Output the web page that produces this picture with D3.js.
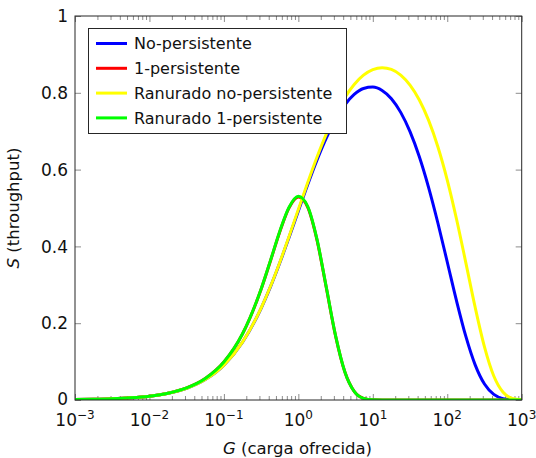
<!DOCTYPE html>
<html><head><meta charset="utf-8">
<script src="https://cdn.jsdelivr.net/npm/d3@7"></script>
<style>body{margin:0;background:#fff} svg{display:block}</style>
</head><body><svg id="c" width="536" height="458"></svg>
<script>
// Offered load G (log-spaced samples)
const G = [0.001, 0.001778, 0.003162, 0.005623, 0.01, 0.01778, 0.03162, 0.05623, 0.1, 0.1778,
  0.3162, 0.4217, 0.5623, 0.7499, 1, 1.3335, 1.778, 2.371, 3.162, 4.217,
  5.623, 7.499, 10, 13.335, 17.78, 23.71, 31.62, 42.17, 56.23, 74.99,
  100, 133.35, 177.8, 237.1, 316.2, 421.7, 562.3, 749.9, 1000];
// Throughput S
const noPersistente = [0.0010, 0.00178, 0.00315, 0.00559, 0.0099, 0.0175, 0.0306, 0.0532, 0.0907, 0.1505,
  0.2389, 0.2945, 0.3566, 0.4235, 0.4925, 0.5607, 0.6247, 0.6821, 0.7305, 0.7686,
  0.7957, 0.8112, 0.8148, 0.8061, 0.7845, 0.7490, 0.6988, 0.6334, 0.5532, 0.4603,
  0.3594, 0.2579, 0.1655, 0.0915, 0.0415, 0.0145, 0.0035, 0.0005, 0.0000];
const unoPersistente = [0.0010, 0.00178, 0.00316, 0.00562, 0.0100, 0.0178, 0.0316, 0.0560, 0.0989, 0.1721,
  0.2885, 0.3620, 0.4375, 0.5003, 0.5286, 0.5025, 0.4172, 0.2928, 0.1667, 0.0727,
  0.0223, 0.0043, 0.0004, 0, 0, 0, 0, 0, 0, 0,
  0, 0, 0, 0, 0, 0, 0, 0, 0];
const ranuradoNoPersistente = [0.0010, 0.00178, 0.00315, 0.00559, 0.0099, 0.0175, 0.0306, 0.0532, 0.0908, 0.1507,
  0.2396, 0.2956, 0.3583, 0.4260, 0.4963, 0.5660, 0.6323, 0.6926, 0.7449, 0.7882,
  0.8218, 0.8459, 0.8604, 0.8655, 0.8609, 0.8460, 0.8199, 0.7812, 0.7281, 0.6590,
  0.5729, 0.4708, 0.3572, 0.2415, 0.1384, 0.0625, 0.0202, 0.0041, 0.0005];
const ranuradoUnoPersistente = [0.0010, 0.00178, 0.00316, 0.00562, 0.0100, 0.0178, 0.0316, 0.0560, 0.0989, 0.1724,
  0.2891, 0.3630, 0.4390, 0.5021, 0.5307, 0.5045, 0.4189, 0.2941, 0.1675, 0.0731,
  0.0225, 0.0043, 0.0004, 0, 0, 0, 0, 0, 0, 0,
  0, 0, 0, 0, 0, 0, 0, 0, 0];

const seriesNames = ["No-persistente", "1-persistente", "Ranurado no-persistente", "Ranurado 1-persistente"];
const seriesColors = ["#0000ff", "#ff0000", "#ffff00", "#00ff00"];
const xTickExps = [-3, -2, -1, 0, 1, 2, 3];
const yTicks = [0, 0.2, 0.4, 0.6, 0.8, 1];
const yTickLabels = ["0", "0.2", "0.4", "0.6", "0.8", "1"];

const seriesValues = [noPersistente, unoPersistente, ranuradoNoPersistente, ranuradoUnoPersistente];

const svg = d3.select("#c");
const L = 75, R = 521.7, T = 16, B = 400;
const x = d3.scaleLog().domain([1e-3, 1e3]).range([L, R]);
const y = d3.scaleLinear().domain([0, 1]).range([B, T]);

const majors = xTickExps.map(e => Math.pow(10, e));
const minors = [];
for (let e = -3; e < 3; e++) for (let k = 2; k <= 9; k++) minors.push(k * Math.pow(10, e));

function styleAxis(g) {
  g.select(".domain").remove();
  g.selectAll("line").attr("stroke", "#8c8c8c").attr("stroke-width", 1);
  g.selectAll("text").remove();
}
// bottom / top ticks (inside)
svg.append("g").attr("transform", `translate(0,${B})`).call(d3.axisBottom(x).tickValues(minors).tickSize(-4).tickFormat("")).call(styleAxis);
svg.append("g").attr("transform", `translate(0,${B})`).call(d3.axisBottom(x).tickValues(majors).tickSize(-6).tickFormat("")).call(styleAxis);
svg.append("g").attr("transform", `translate(0,${T})`).call(d3.axisTop(x).tickValues(minors).tickSize(-4).tickFormat("")).call(styleAxis);
svg.append("g").attr("transform", `translate(0,${T})`).call(d3.axisTop(x).tickValues(majors).tickSize(-6).tickFormat("")).call(styleAxis);
// left / right ticks
svg.append("g").attr("transform", `translate(${L},0)`).call(d3.axisLeft(y).tickValues(yTicks).tickSize(-6).tickFormat("")).call(styleAxis);
svg.append("g").attr("transform", `translate(${R},0)`).call(d3.axisRight(y).tickValues(yTicks).tickSize(-6).tickFormat("")).call(styleAxis);

// curves
svg.append("clipPath").attr("id", "clip").append("rect").attr("x", L).attr("y", T - 2).attr("width", R - L).attr("height", B - T + 2);
const line = d3.line().x(d => x(d[0])).y(d => y(d[1])).curve(d3.curveMonotoneX);
const plot = svg.append("g").attr("clip-path", "url(#clip)");
seriesValues.forEach((vals, i) => {
  plot.append("path")
    .datum(G.map((g, j) => [g, vals[j]]))
    .attr("fill", "none")
    .attr("stroke", seriesColors[i])
    .attr("stroke-width", 3)
    .attr("stroke-linejoin", "round")
    .attr("d", line);
});

// frame
svg.append("rect").attr("x", L).attr("y", T).attr("width", R - L).attr("height", B - T)
  .attr("fill", "none").attr("stroke", "#262626").attr("stroke-width", 1);

const font = "DejaVu Sans, sans-serif";
// x tick labels
xTickExps.forEach(e => {
  const t = svg.append("text").attr("x", x(Math.pow(10, e))).attr("y", 426)
    .attr("text-anchor", "middle").attr("font-family", font).attr("font-size", 17).attr("fill", "#111");
  t.append("tspan").text("10");
  t.append("tspan").attr("font-size", 12).attr("dy", -7).text(e < 0 ? "\u2212" + Math.abs(e) : String(e));
});
// y tick labels
yTicks.forEach((v, i) => {
  svg.append("text").attr("x", 68).attr("y", y(v)).attr("dy", v === 0 ? "0.28em" : "0.36em")
    .attr("text-anchor", "end").attr("font-family", font).attr("font-size", 17).attr("fill", "#111")
    .text(yTickLabels[i]);
});
// axis titles
const xl = svg.append("text").attr("x", 297.5).attr("y", 454).attr("text-anchor", "middle")
  .attr("font-family", font).attr("font-size", 16.5).attr("fill", "#111");
xl.append("tspan").attr("font-style", "italic").text("G");
xl.append("tspan").text(" (carga ofrecida)");
const yl = svg.append("text").attr("transform", "translate(19,208) rotate(-90)").attr("text-anchor", "middle")
  .attr("font-family", font).attr("font-size", 16.5).attr("fill", "#111");
yl.append("tspan").attr("font-style", "italic").text("S");
yl.append("tspan").text(" (throughput)");

// legend
const lg = svg.append("g");
lg.append("rect").attr("x", 88.5).attr("y", 28.5).attr("width", 258).attr("height", 105)
  .attr("fill", "#fff").attr("stroke", "#262626").attr("stroke-width", 1);
seriesNames.forEach((n, i) => {
  const cy = 43.5 + i * 24.8;
  lg.append("line").attr("x1", 96).attr("x2", 127).attr("y1", cy).attr("y2", cy)
    .attr("stroke", seriesColors[i]).attr("stroke-width", 3);
  lg.append("text").attr("x", 134).attr("y", cy).attr("dy", "0.36em")
    .attr("font-family", font).attr("font-size", 16).attr("fill", "#111").text(n);
});
</script></body></html>
